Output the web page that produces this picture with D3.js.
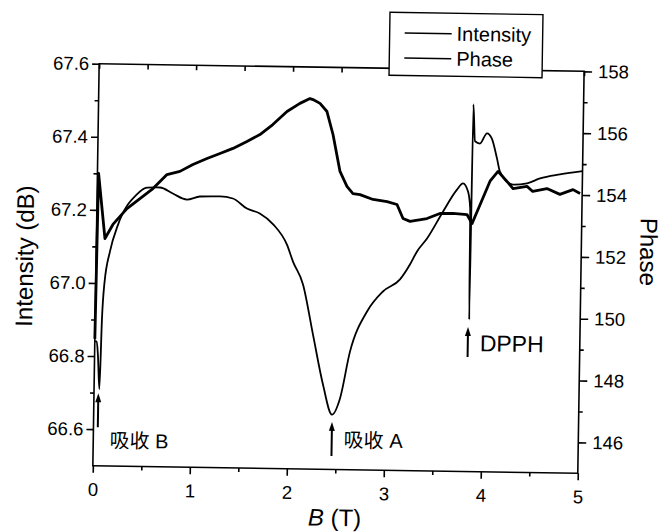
<html>
<head>
<meta charset="UTF-8">
<script src="https://d3js.org/d3.v7.min.js"></script>
<style>
  body { margin: 0; background: #fff; }
  text { font-family: "Liberation Sans", Arial, "Noto Sans CJK SC", sans-serif; fill: #000; }
</style>
</head>
<body>
<svg id="chart" width="664" height="532"></svg>
<script>
// values
var intensityB  = [0.0, 0.02, 0.035, 0.055, 0.07, 0.09, 0.142, 0.22, 0.41, 0.513, 0.647, 0.78, 0.927, 1.06, 1.267, 1.40, 1.547, 1.68, 1.82, 1.965, 2.03, 2.137, 2.248, 2.359, 2.457, 2.536, 2.632, 2.80, 2.962, 3.136, 3.236, 3.307, 3.408, 3.568, 3.709, 3.77, 3.823, 3.848, 3.856, 3.864, 3.887, 3.938, 4.009, 4.06, 4.116, 4.149, 4.285, 4.43, 4.563, 4.768, 5.0];
var intensityDb = [66.84, 66.84, 66.80, 66.71, 66.90, 67.00, 67.087, 67.16, 67.244, 67.263, 67.264, 67.248, 67.232, 67.241, 67.242, 67.237, 67.21, 67.197, 67.168, 67.113, 67.067, 67.005, 66.868, 66.732, 66.65, 66.694, 66.823, 66.933, 66.989, 67.023, 67.064, 67.10, 67.136, 67.21, 67.271, 67.288, 67.266, 67.22, 66.916, 67.505, 67.404, 67.398, 67.426, 67.412, 67.358, 67.322, 67.287, 67.291, 67.305, 67.317, 67.327];

var phaseB   = [0.0, 0.012, 0.088, 0.168, 0.31, 0.442, 0.575, 0.717, 0.85, 0.983, 1.127, 1.26, 1.393, 1.536, 1.669, 1.80, 1.944, 2.076, 2.179, 2.21, 2.283, 2.356, 2.422, 2.50, 2.574, 2.637, 2.71, 2.845, 2.99, 3.093, 3.157, 3.23, 3.404, 3.537, 3.671, 3.816, 3.869, 3.95, 4.048, 4.129, 4.223, 4.286, 4.43, 4.49, 4.636, 4.77, 4.905, 4.978];
var phaseDeg = [149.1, 154.45, 152.35, 152.81, 153.33, 153.66, 153.99, 154.45, 154.56, 154.79, 154.99, 155.16, 155.33, 155.56, 155.79, 156.12, 156.55, 156.82, 156.98, 156.95, 156.83, 156.57, 155.83, 154.64, 154.16, 153.93, 153.9, 153.75, 153.69, 153.6, 153.15, 153.06, 153.16, 153.33, 153.34, 153.31, 153.02, 153.64, 154.4, 154.72, 154.4, 154.17, 154.25, 154.09, 154.19, 154.01, 154.17, 154.05];

var bTicks = [0, 1, 2, 3, 4, 5];
var bMinor = [0.5, 1.5, 2.5, 3.5, 4.5];
var bTop = [0, 0.5, 1, 1.5, 2, 2.5, 3, 3.5, 4, 4.5, 5];
var intensityTicks = [66.6, 66.8, 67.0, 67.2, 67.4, 67.6];
var intensityMinor = [66.7, 66.9, 67.1, 67.3, 67.5];
var phaseTicks = [146, 148, 150, 152, 154, 156, 158];
var phaseMinor = [147, 149, 151, 153, 155, 157];

var legendNames = ["Intensity", "Phase"];
var markLabels = ["吸收 B", "吸收 A", "DPPH"];
var markB = [0.045, 2.458, 3.845];

var svg = d3.select("#chart");
// the scan is slightly tilted
var g = svg.append("g").attr("transform", "rotate(0.9,338.5,267)");

var pLeft = 96, pRight = 581, pTop = 67.5, pBottom = 469.5;
var x = d3.scaleLinear().domain([0, 5]).range([pLeft, pRight]);
var yI = d3.scaleLinear().domain([66.5, 67.6]).range([pBottom, pTop]);
var yP = d3.scaleLinear().domain([145, 158]).range([pBottom, pTop]);

function styleAxis(sel, size) {
  sel.select(".domain").remove();
  sel.selectAll("line").attr("stroke", "#000").attr("stroke-width", 1.6);
  sel.selectAll("text").style("font-size", size + "px").attr("fill", "#000");
}

// bottom
g.append("g").attr("transform", "translate(0," + pBottom + ")")
  .call(d3.axisBottom(x).tickValues(bTicks).tickSize(7).tickPadding(10).tickFormat(d3.format("d")))
  .call(styleAxis, 18.5);
g.append("g").attr("transform", "translate(0," + pBottom + ")")
  .call(d3.axisBottom(x).tickValues(bMinor).tickSize(4).tickFormat(""))
  .call(styleAxis, 10);
// top, inward ticks
g.append("g").attr("transform", "translate(0," + pTop + ")")
  .call(d3.axisTop(x).tickValues(bTop).tickSize(-5).tickFormat(""))
  .call(styleAxis, 10);
// left
g.append("g").attr("transform", "translate(" + pLeft + ",0)")
  .call(d3.axisLeft(yI).tickValues(intensityTicks).tickSize(7).tickPadding(3).tickFormat(d3.format(".1f")))
  .call(styleAxis, 18.5);
g.append("g").attr("transform", "translate(" + pLeft + ",0)")
  .call(d3.axisLeft(yI).tickValues(intensityMinor).tickSize(4).tickFormat(""))
  .call(styleAxis, 10);
// right
g.append("g").attr("transform", "translate(" + pRight + ",0)")
  .call(d3.axisRight(yP).tickValues(phaseTicks).tickSize(8).tickPadding(6).tickFormat(d3.format("d")))
  .call(styleAxis, 18.5);
g.append("g").attr("transform", "translate(" + pRight + ",0)")
  .call(d3.axisRight(yP).tickValues(phaseMinor).tickSize(4).tickFormat(""))
  .call(styleAxis, 10);

// frame
g.append("rect")
  .attr("x", pLeft).attr("y", pTop)
  .attr("width", pRight - pLeft).attr("height", pBottom - pTop)
  .attr("fill", "none").attr("stroke", "#000").attr("stroke-width", 1.6);

// curves
var intensityLine = d3.line()
  .x(function(d, i) { return x(intensityB[i]); })
  .y(function(d) { return yI(d); })
  .curve(d3.curveMonotoneX);
g.append("path").datum(intensityDb)
  .attr("d", intensityLine)
  .attr("fill", "none").attr("stroke", "#000").attr("stroke-width", 1.8);

var phaseLine = d3.line()
  .x(function(d, i) { return x(phaseB[i]); })
  .y(function(d) { return yP(d); });
g.append("path").datum(phaseDeg)
  .attr("d", phaseLine)
  .attr("fill", "none").attr("stroke", "#000").attr("stroke-width", 2.8)
  .attr("stroke-linejoin", "round");

// annotations with arrows (arrow top, arrow bottom, text centre, font size)
var markPos = [[397, 431, 444, 20], [422, 456, 440, 20], [325, 355, 341, 23]];
markLabels.forEach(function(label, i) {
  var ax = x(markB[i]);
  var p = markPos[i];
  g.append("line")
    .attr("x1", ax).attr("x2", ax)
    .attr("y1", p[0] + 6).attr("y2", p[1])
    .attr("stroke", "#000").attr("stroke-width", 2);
  g.append("path")
    .attr("d", "M" + ax + "," + p[0] + "L" + (ax - 3) + "," + (p[0] + 9) + "L" + (ax + 3) + "," + (p[0] + 9) + "Z")
    .attr("fill", "#000");
  g.append("text")
    .attr("x", ax + 12)
    .attr("y", p[2])
    .attr("dy", "0.35em")
    .style("font-size", p[3] + "px")
    .text(label);
});

// axis titles
g.append("text")
  .attr("transform", "translate(33,261) rotate(-90)")
  .attr("text-anchor", "middle")
  .style("font-size", "24px")
  .text("Intensity (dB)");
g.append("text")
  .attr("transform", "translate(640,247) rotate(90)")
  .attr("text-anchor", "middle")
  .style("font-size", "24px")
  .text("Phase");
var xt = g.append("text")
  .attr("x", x(2.5)).attr("y", 526)
  .attr("text-anchor", "middle")
  .style("font-size", "24px");
xt.append("tspan").style("font-style", "italic").text("B");
xt.append("tspan").text(" (T)");

// legend
var lg = g.append("g");
lg.append("rect")
  .attr("x", 386).attr("y", 11.5).attr("width", 153).attr("height", 63)
  .attr("fill", "#fff").attr("stroke", "#000").attr("stroke-width", 1.4);
legendNames.forEach(function(name, i) {
  var ly = 32 + i * 25;
  lg.append("line")
    .attr("x1", 401).attr("x2", 448).attr("y1", ly).attr("y2", ly)
    .attr("stroke", "#000").attr("stroke-width", 1.6);
  lg.append("text")
    .attr("x", 453).attr("y", ly).attr("dy", "0.35em")
    .style("font-size", "20px")
    .text(name);
});
</script>
</body>
</html>
